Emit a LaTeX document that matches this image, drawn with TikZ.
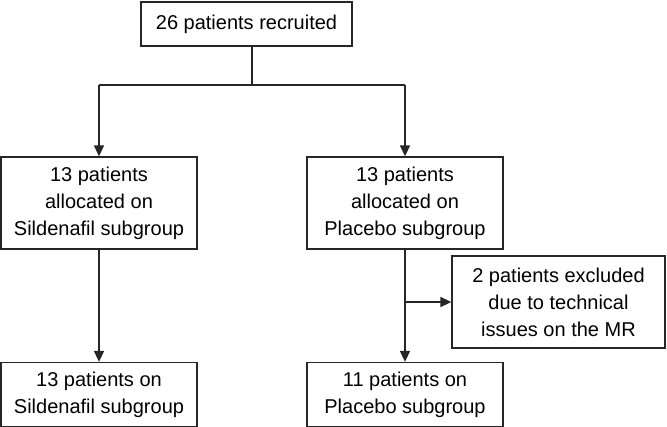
\documentclass[tikz,border=0pt]{standalone}
\usepackage{fontspec}
\setmainfont{Liberation Sans}
\usetikzlibrary{arrows.meta}
\tikzset{
    box/.style={draw=black!85,line width=1.3pt,align=center,inner sep=0pt,
        font=\fontsize{20}{27}\selectfont},
    flow/.style={draw=black!85,line width=1.5pt},
    arr/.style={flow,-{Triangle[width=10pt,length=11pt]}}
}
\begin{document}
\begin{tikzpicture}[x=1pt,y=1pt]
                \useasboundingbox (0,0) rectangle (667,-427);
                \node[box,minimum width=211,minimum height=44] (recruited) at (246.5,-24) {26 patients recruited};
                \node[box,minimum width=196,minimum height=92] (sildalloc) at (99,-203)
                    {13 patients\\allocated on\\Sildenafil subgroup};
                \node[box,minimum width=196,minimum height=92] (placalloc) at (405,-203)
                    {13 patients\\allocated on\\Placebo subgroup};
                \node[box,minimum width=213,minimum height=92] (excluded) at (558.5,-302)
                    {2 patients excluded\\due to technical\\issues on the MR};
                \node[box,minimum width=196,minimum height=64] (sildfinal) at (99,-394.5)
                    {13 patients on\\Sildenafil subgroup};
                \node[box,minimum width=196,minimum height=64] (placfinal) at (405,-394.5)
                    {11 patients on\\Placebo subgroup};
                \coordinate (split) at (252,-85);
                \draw[flow] (recruited.south -| split) -- (split);
                \draw[flow] (sildalloc.north |- split) -- (placalloc.north |- split);
                \draw[arr] (sildalloc.north |- split) -- (sildalloc.north);
                \draw[arr] (placalloc.north |- split) -- (placalloc.north);
                \draw[arr] (sildalloc.south) -- (sildfinal.north);
                \draw[arr] (placalloc.south) -- (placfinal.north);
                \draw[arr] (placalloc.south |- excluded.west) -- (excluded.west);
            \end{tikzpicture}
\end{document}
